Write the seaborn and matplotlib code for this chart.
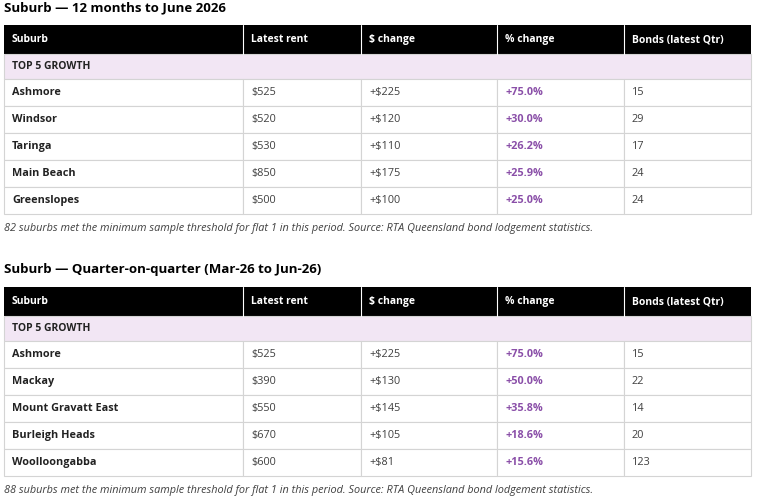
import matplotlib
matplotlib.use("Agg")
import matplotlib.pyplot as plt
from matplotlib.patches import Rectangle
import seaborn as sns

sns.set_theme(style="white")
plt.rcParams["font.family"] = ["Open Sans", "DejaVu Sans"]

columns = ["Suburb", "Latest rent", "$ change", "% change", "Bonds (latest Qtr)"]

t1_title = "Suburb — 12 months to June 2026"
t1_suburbs = ["Ashmore", "Windsor", "Taringa", "Main Beach", "Greenslopes"]
t1_rent = ["$525", "$520", "$530", "$850", "$500"]
t1_dchg = ["+$225", "+$120", "+$110", "+$175", "+$100"]
t1_pchg = ["+75.0%", "+30.0%", "+26.2%", "+25.9%", "+25.0%"]
t1_bonds = ["15", "29", "17", "24", "24"]
t1_note = ("82 suburbs met the minimum sample threshold for flat 1 in this period. "
           "Source: RTA Queensland bond lodgement statistics.")

t2_title = "Suburb — Quarter-on-quarter (Mar-26 to Jun-26)"
t2_suburbs = ["Ashmore", "Mackay", "Mount Gravatt East", "Burleigh Heads", "Woolloongabba"]
t2_rent = ["$525", "$390", "$550", "$670", "$600"]
t2_dchg = ["+$225", "+$130", "+$145", "+$105", "+$81"]
t2_pchg = ["+75.0%", "+50.0%", "+35.8%", "+18.6%", "+15.6%"]
t2_bonds = ["15", "22", "14", "20", "123"]
t2_note = ("88 suburbs met the minimum sample threshold for flat 1 in this period. "
           "Source: RTA Queensland bond lodgement statistics.")

col_edges = [4, 243, 361, 497, 624, 751]
PURPLE = "#8a4fa8"
TEXT = "#404040"
GRID = "#d4d4d4"


def draw_table(ax, top, title, rows, note):
    ax.text(4, top - 17, title, fontsize=9.5, fontweight="bold", va="center", color="black")
    # header
    h0, h1 = top, top + 29
    ax.add_patch(Rectangle((col_edges[0], h0), col_edges[-1] - col_edges[0], h1 - h0,
                           facecolor="black", edgecolor="none"))
    for i, name in enumerate(columns):
        ax.text(col_edges[i] + 8, (h0 + h1) / 2, name, color="white", fontsize=7.5,
                fontweight="bold", va="center")
        if 0 < i:
            ax.plot([col_edges[i]] * 2, [h0, h1], color="white", lw=0.8)
    # group row
    g0, g1 = h1, h1 + 25
    ax.add_patch(Rectangle((col_edges[0], g0), col_edges[-1] - col_edges[0], g1 - g0,
                           facecolor="#f2e6f4", edgecolor=GRID, lw=0.8))
    ax.text(col_edges[0] + 8, (g0 + g1) / 2, "TOP 5 GROWTH", fontsize=7.5,
            fontweight="bold", va="center", color="#222222")
    # data rows
    rh = 27
    for r, row in enumerate(zip(*rows)):
        y0 = g1 + r * rh
        for i, val in enumerate(row):
            ax.add_patch(Rectangle((col_edges[i], y0), col_edges[i + 1] - col_edges[i], rh,
                                   facecolor="white", edgecolor=GRID, lw=0.8))
            color = PURPLE if i == 3 else ("#222222" if i == 0 else TEXT)
            weight = "bold" if i in (0, 3) else "normal"
            ax.text(col_edges[i] + 8, y0 + rh / 2, val, fontsize=7.8, va="center",
                    color=color, fontweight=weight)
    bottom = g1 + len(rows[0]) * rh
    ax.text(4, bottom + 14, note, fontsize=7.8, style="italic", va="center", color=TEXT)


fig = plt.figure(figsize=(7.57, 4.97), dpi=100)
ax = fig.add_axes([0, 0, 1, 1])
ax.set_xlim(0, 757)
ax.set_ylim(497, 0)
ax.axis("off")

draw_table(ax, 25, t1_title, [t1_suburbs, t1_rent, t1_dchg, t1_pchg, t1_bonds], t1_note)
draw_table(ax, 287, t2_title, [t2_suburbs, t2_rent, t2_dchg, t2_pchg, t2_bonds], t2_note)

fig.savefig("out.png", dpi=100, facecolor="white")
